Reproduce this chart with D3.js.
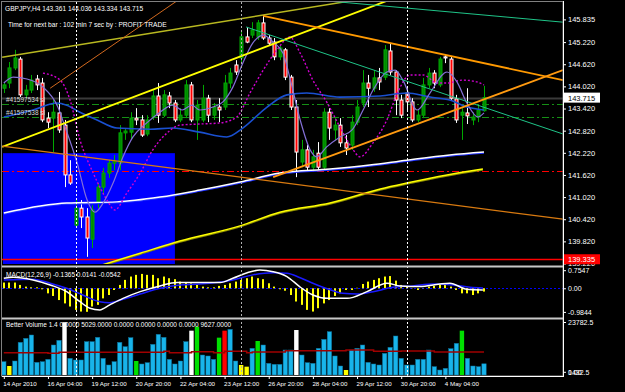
<!DOCTYPE html>
<html>
<head>
<meta charset="utf-8">
<script src="https://cdn.jsdelivr.net/npm/d3@7"></script>
<style>
  html, body { margin: 0; padding: 0; background: #000; }
  svg { display: block; }
  text { font-family: "Liberation Sans", Arial, sans-serif; font-size: 6.5px; fill: #fff; }
</style>
</head>
<body>
<svg id="chart" width="625" height="392"></svg>
<script>
"use strict";

// ---- data (bar index 0 = 14 Apr 2010 20:00, H4 bars) ----
const opens = [143.97,144.11,144.52,144.76,143.79,143.92,144.22,144.11,143.16,143.16,143.30,142.97,141.62,140.26,140.72,140.48,139.88,140.89,141.29,141.67,141.94,141.94,142.76,142.78,143.16,143.11,142.73,143.19,143.76,143.24,143.76,143.57,143.11,143.24,144.06,143.11,143.11,143.70,143.24,143.46,143.46,144.11,144.60,144.79,145.36,145.41,145.36,145.74,145.33,145.22,144.82,145.01,144.27,143.46,141.97,142.30,141.83,142.21,141.83,143.32,142.84,142.97,142.49,142.43,143.05,143.57,144.11,143.97,144.25,144.27,144.98,144.41,143.65,143.84,143.60,143.11,143.24,144.06,144.38,144.06,144.82,144.76,143.68,143.24,143.30,143.11,143.19,143.361];
const highs = [144.14,144.68,145.01,144.82,144.06,144.33,144.33,144.25,143.32,143.65,143.87,143.11,142.02,140.94,140.94,140.72,140.80,141.40,141.81,142.02,142.16,142.97,142.89,143.32,143.43,143.24,143.24,143.92,144.11,143.92,143.87,143.65,143.43,144.19,144.14,143.65,144.06,143.79,143.57,143.70,144.33,144.52,144.73,145.55,145.63,145.76,145.82,145.95,145.41,145.33,145.14,145.06,144.33,143.65,142.57,142.43,142.30,142.51,143.43,143.43,143.16,143.16,142.70,143.24,143.65,144.46,144.33,144.46,144.52,145.14,145.19,144.46,143.79,143.97,143.70,143.38,144.25,144.52,144.46,144.82,144.87,144.82,143.79,143.43,143.97,143.32,143.51,144.036];
const lows = [143.84,143.97,144.46,143.73,143.70,143.84,143.92,143.05,142.89,142.24,142.76,141.29,141.35,140.18,140.18,139.40,139.64,140.72,141.08,141.54,141.75,141.75,142.57,142.57,142.97,142.65,142.67,143.11,143.03,143.19,143.43,143.05,143.05,143.16,143.05,142.57,143.05,143.05,143.11,143.05,143.38,143.97,144.33,144.68,145.19,145.33,145.28,145.28,145.14,144.73,144.73,144.19,143.38,141.56,141.83,141.75,141.75,141.75,141.75,142.57,142.57,142.38,142.16,142.30,142.97,143.46,143.46,143.87,143.92,144.19,144.33,143.24,143.16,143.38,143.05,143.05,143.16,143.97,143.97,144.00,144.65,143.65,143.03,142.57,143.00,142.97,143.05,143.334];
const closes = [144.06,144.52,144.79,143.79,143.92,144.19,144.06,143.11,143.05,143.32,142.84,141.62,141.40,140.72,140.48,139.91,140.67,141.29,141.67,141.94,142.00,142.76,142.81,143.16,143.11,142.70,143.11,143.76,143.24,143.79,143.57,143.11,143.24,144.06,143.11,143.51,143.70,143.24,143.46,143.38,144.11,144.38,144.41,145.36,145.22,145.55,145.74,145.33,145.19,144.82,145.06,144.27,143.46,142.24,142.30,141.83,142.11,141.83,143.32,142.89,142.97,142.49,142.35,143.05,143.46,144.11,143.97,144.25,144.14,145.01,144.41,143.65,143.24,143.60,143.11,143.24,144.06,144.38,144.11,144.76,144.79,143.70,143.11,143.32,143.22,143.19,143.38,143.715];

// moving averages: [bar index, price]
const maFast = [[0,144.11],[1.7,144.27],[4.2,144.22],[7.1,144.00],[9.8,143.46],[11.1,142.92],[13.3,141.94],[15.1,140.94],[16.5,140.61],[18,140.86],[19.8,141.40],[21.6,142.11],[23.4,142.65],[25.9,143.03],[28.3,143.32],[30.6,143.51],[32.3,143.38],[34.1,143.51],[35.5,143.38],[37.9,143.46],[39.7,143.60],[41.5,144.00],[43.3,144.65],[45.1,145.19],[47,145.41],[48.8,145.22],[50.6,144.92],[51.8,144.27],[53.7,143.11],[55.5,142.30],[56.7,142.11],[58.5,142.38],[60.9,142.65],[63.1,142.84],[65.1,143.38],[66.9,143.92],[69.4,144.41],[70.9,144.46],[72.3,144.19],[74.9,143.38],[77.2,143.84],[80.3,144.41],[82.1,144.14],[83.9,143.57],[85.9,143.19],[87,143.30]];
const maMid = [[0,143.19],[5.3,143.38],[9.6,143.57],[11.4,143.51],[13.8,143.32],[16.9,143.11],[20.5,142.89],[26.5,142.86],[30.6,142.89],[35.5,142.78],[40.4,142.65],[43.3,142.89],[47.7,143.46],[51.3,143.79],[54.9,143.84],[60.9,143.73],[68.2,143.76],[73,143.84],[77.2,143.73],[80.8,143.65],[83.9,143.46],[87,143.38]];
const maDotted = [[7.1,144.38],[10.2,144.19],[12,143.65],[13.8,142.57],[16.2,141.67],[18.7,140.94],[20.1,140.67],[22.3,141.13],[24.7,141.67],[27,142.30],[29.6,142.76],[31.9,142.97],[35.5,143.00],[39.2,143.03],[42.2,143.19],[44.6,143.84],[47,144.46],[49.5,145.01],[51.8,145.36],[53.7,144.92],[56,144.19],[58.6,143.57],[60.9,142.92],[63.3,142.30],[64.5,142.11],[66.9,142.49],[69.4,143.11],[71.4,143.87],[73.6,144.33],[76,144.33],[78.5,144.11],[80.3,144.11],[83.2,144.19],[85.7,144.14],[87,144.06]];
const maSlowWhite = [[0,140.59],[6.6,140.78],[11.4,140.86],[20.5,140.89],[28.3,141.02],[35.5,141.21],[42.8,141.43],[50,141.67],[59.1,141.78],[66.3,141.89],[73,142.02],[80.8,142.16],[87,142.24]];
const maSlowYellow = [[16.5,139.12],[24.7,139.50],[31.9,139.83],[42.8,140.24],[50,140.61],[59.1,140.86],[68.2,141.24],[73,141.40],[80.3,141.62],[86.8,141.78]];

// trend lines: anchor points [bar index, price]
const trendNames = ["upperYellow", "lowerYellow", "chocolate", "orangeDown", "tealDown", "tealTop", "orangeUp", "orangeLow"];
const trendFrom = [[-0.3,144.81],[-0.3,142.38],[8.4,143.97],[47,145.93],[43.9,145.63],[59.1,146.33],[48.8,141.56],[-0.3,142.40]];
const trendTo = [[63.8,146.36],[69.8,146.36],[31.6,146.36],[101.3,144.19],[101.3,142.73],[101.3,145.76],[101.3,144.46],[101.3,140.42]];

const boxFrom = [-0.15, 142.21];
const boxTo = [31, 138.9];

const bidPrice = 143.715;
const lowLevel = 139.335;
const redDashLevel = 141.73;
const orderLevels = [143.54, 143.19];
const orderLabels = ["#41597534 sl", "#41597538 sl"];
const separatorBars = [13, 43, 73];

const priceTicks = [145.835, 145.220, 144.620, 144.020, 143.420, 142.820, 142.220, 141.620, 141.020, 140.420, 139.820, 139.220];

// MACD (12,26,9)
const macdHist = [0.24,0.24,0.24,0.14,0.07,0.04,0.04,-0.04,-0.21,-0.32,-0.49,-0.63,-0.76,-0.90,-0.97,-0.98,-0.76,-0.69,-0.42,-0.28,-0.07,0.14,0.35,0.49,0.56,0.60,0.56,0.56,0.42,0.49,0.42,0.38,0.28,0.24,0.21,0.14,0.07,0.04,0.04,0.10,0.14,0.21,0.28,0.35,0.42,0.49,0.42,0.38,0.21,0.07,-0.04,-0.10,-0.28,-0.55,-0.69,-0.90,-0.97,-0.83,-0.63,-0.49,-0.32,-0.21,-0.07,-0.07,0.02,0.18,0.28,0.35,0.42,0.49,0.51,0.32,0.14,0.07,-0.01,-0.07,0.01,0.07,0.10,0.18,0.21,0.07,-0.07,-0.21,-0.21,-0.28,-0.21,-0.1365];
const macdMain = [[0,0.42],[1.7,0.46],[5.3,0.35],[8.4,0.14],[11.4,-0.14],[13.8,-0.56],[15.6,-0.83],[17.4,-0.90],[19.2,-0.69],[21.6,-0.42],[24.7,-0.14],[28.3,0.10],[31.4,0.24],[35.5,0.24],[39.2,0.24],[41.5,0.42],[44.1,0.65],[46.4,0.76],[48.8,0.69],[51.3,0.49],[53.7,0.05],[56,-0.28],[58.6,-0.42],[62.2,-0.42],[65.8,-0.14],[69.4,0.21],[71.8,0.10],[75.4,0.07],[79,0.18],[80.8,0.21],[83.9,-0.04],[86.8,-0.07]];
const macdSignal = [[0,0.35],[5.3,0.38],[8.4,0.21],[11.4,0.0],[14.3,-0.28],[17.4,-0.56],[19.2,-0.60],[21.6,-0.46],[24.7,-0.24],[28.3,0.0],[31.9,0.14],[35.5,0.18],[41.5,0.35],[45.1,0.56],[48.8,0.65],[51.3,0.63],[53.7,0.44],[56,0.21],[58.6,-0.02],[61.4,-0.21],[64,-0.24],[66.9,-0.14],[70.5,0.04],[74.1,0.10],[77.8,0.18],[81.4,0.14],[84.5,0.04],[86.8,0.0141]];
const macdTicks = [0.7547, 0, -0.9844];
const macdTickText = ["0.7547", "0.00", "-0.9844"];

// Better Volume 1.4
const volume = [5980,4040,6280,14660,16450,17950,5680,5980,7030,13460,15560,23700,7480,6730,6730,14960,14960,16900,7480,4490,5980,14660,12710,16750,6280,4940,5530,13760,18250,16900,7030,4940,6280,14960,19890,21690,8970,8530,7030,16750,19890,20490,6280,4490,3740,11970,15260,13460,5240,4790,4790,11220,11220,20190,8970,5530,5240,11970,16000,19440,8530,4040,2240,11220,11970,13460,5680,4940,4490,9720,12410,17500,7480,4490,4490,7030,7030,11220,3740,2240,2990,11810,14210,19890,7480,4040,3740,5029];
const volKind = volume.map(() => "normal");
[1, 43, 44, 62].forEach((i) => (volKind[i] = "low"));
[11, 34, 53].forEach((i) => (volKind[i] = "climax"));
[24, 35, 39, 46, 83].forEach((i) => (volKind[i] = "churn"));
[40].forEach((i) => (volKind[i] = "climaxChurn"));
const volAvg = [[0,10020],[8,9720],[10,10170],[29,10620],[30,10020],[34,10470],[38,10020],[40,10620],[44,10020],[45,10320],[51,10920],[62,11220],[67,10620],[72,10770],[78,10320],[87,10320]];
const volTicks = [23782.5, 1432.5];

const timeTickBars = [0, 8, 16, 24, 32, 40, 48, 56, 64, 72, 80];
const timeLabels = ["14 Apr 2010", "16 Apr 04:00", "19 Apr 12:00", "20 Apr 20:00", "22 Apr 04:00", "23 Apr 12:00", "26 Apr 20:00", "28 Apr 04:00", "29 Apr 12:00", "30 Apr 20:00", "4 May 04:00"];

// ---- layout ----
const width = 625;
const height = 392;
const plotL = 2, plotR = 563;
const main = { top: 2, bottom: 264 };
const macdP = { top: 267, bottom: 316 };
const volP = { top: 319, bottom: 376 };

const colors = {
  bull: "#008a00", bullEdge: "#00a800", bear: "#ff0000", bearEdge: "#ffffff",
  volume: { normal: "#18b4ea", low: "#ffff00", climax: "#ffffff", churn: "#00e000", climaxChurn: "#ff0000" }
};

const x = d3.scaleLinear().domain([0, 87]).range([3.8, 484]);
const y = d3.scaleLinear().domain([139.22, 145.835]).range([263.5, 19.4]);
const yMacd = d3.scaleLinear().domain([-0.9844, 0.7547]).range([311.9, 270.2]);
const yVol = d3.scaleLinear().domain([0, 23782.5]).range([375, 322]);

const svg = d3.select("#chart");
svg.append("rect").attr("width", width).attr("height", height).attr("fill", "#000");

const defs = svg.append("defs");
const addClip = (id, p) =>
  defs.append("clipPath").attr("id", id).append("rect")
    .attr("x", plotL).attr("y", p.top).attr("width", plotR - plotL).attr("height", p.bottom - p.top);
addClip("clip-main", main);
addClip("clip-macd", macdP);
addClip("clip-vol", volP);

const gMain = svg.append("g").attr("clip-path", "url(#clip-main)");

// background box
gMain.append("rect")
  .attr("x", x(boxFrom[0])).attr("y", y(boxFrom[1]))
  .attr("width", x(boxTo[0]) - x(boxFrom[0])).attr("height", y(boxTo[1]) - y(boxFrom[1]))
  .attr("fill", "#0000ff");

// horizontal levels
const hline = (p, color, w, dash) =>
  gMain.append("line")
    .attr("x1", plotL).attr("x2", plotR)
    .attr("y1", Math.round(y(p)) + 0.5).attr("y2", Math.round(y(p)) + 0.5)
    .attr("stroke", color).attr("stroke-width", w)
    .attr("stroke-dasharray", dash);

hline(bidPrice, "#3a3a3a", 2, null);
orderLevels.forEach((p) => hline(p, "#159015", 1.2, "7,3,2,3"));
hline(redDashLevel, "#ff0000", 1, "7,3,2,3");
hline(lowLevel, "#ff0000", 1.5, null);

// candles
const bars = d3.range(opens.length);
const cg = gMain.append("g");
cg.selectAll("line")
  .data(bars)
  .join("line")
  .attr("x1", (i) => Math.round(x(i)) + 0.5).attr("x2", (i) => Math.round(x(i)) + 0.5)
  .attr("y1", (i) => y(highs[i])).attr("y2", (i) => y(lows[i]))
  .attr("stroke", (i) => (closes[i] >= opens[i] ? colors.bullEdge : colors.bearEdge))
  .attr("stroke-width", 1);
cg.selectAll("rect")
  .data(bars)
  .join("rect")
  .attr("x", (i) => Math.round(x(i)) - 1)
  .attr("width", 3)
  .attr("y", (i) => y(Math.max(opens[i], closes[i])))
  .attr("height", (i) => Math.max(1, Math.abs(y(opens[i]) - y(closes[i]))))
  .attr("fill", (i) => (closes[i] >= opens[i] ? colors.bull : colors.bear))
  .attr("stroke", (i) => (closes[i] >= opens[i] ? colors.bullEdge : colors.bearEdge))
  .attr("stroke-width", 1);

// moving averages
const maLine = d3.line().x((d) => x(d[0])).y((d) => y(d[1])).curve(d3.curveMonotoneX);
const drawPath = (g, data, gen, color, w, dash, dy) =>
  g.append("path")
    .datum(data)
    .attr("d", gen)
    .attr("fill", "none")
    .attr("stroke", color)
    .attr("stroke-width", w)
    .attr("stroke-dasharray", dash)
    .attr("transform", dy ? `translate(0,${dy})` : null);

drawPath(gMain, maSlowYellow, maLine, "#8a8a00", 1.5, null, 1);
drawPath(gMain, maSlowYellow, maLine, "#ffff00", 1.5, null, 0);
drawPath(gMain, maSlowWhite, maLine, "#2030ff", 1.5, null, 1);
drawPath(gMain, maSlowWhite, maLine, "#ffffff", 1.5, null, 0);
drawPath(gMain, maMid, maLine, "#1a50d0", 1.6, null, 0);
drawPath(gMain, maDotted, maLine, "#d000d0", 1.4, "2,2", 0);
drawPath(gMain, maFast, maLine, "#8470d8", 1.2, null, 0);

// trend lines
const trendStyle = {
  upperYellow: { color: "#b8b820", w: 1.5 },
  lowerYellow: { color: "#ffff00", w: 1.8 },
  chocolate: { color: "#d2691e", w: 1 },
  orangeDown: { color: "#ff9900", w: 1.8 },
  tealDown: { color: "#1fc488", w: 1 },
  tealTop: { color: "#1fc488", w: 1 },
  orangeUp: { color: "#ff9a10", w: 1.8 },
  orangeLow: { color: "#d97a10", w: 1.2 }
};
gMain.append("g").selectAll("line")
  .data(trendNames)
  .join("line")
  .attr("x1", (d, k) => x(trendFrom[k][0])).attr("y1", (d, k) => y(trendFrom[k][1]))
  .attr("x2", (d, k) => x(trendTo[k][0])).attr("y2", (d, k) => y(trendTo[k][1]))
  .attr("stroke", (d) => trendStyle[d].color)
  .attr("stroke-width", (d) => trendStyle[d].w);

// order labels on top
gMain.append("g").selectAll("text")
  .data(orderLabels)
  .join("text")
  .attr("x", 6)
  .attr("y", (d, k) => y(orderLevels[k]) - 2)
  .style("fill", "#d8d8d8")
  .text((d) => d);

// ---- MACD panel ----
const gMacd = svg.append("g").attr("clip-path", "url(#clip-macd)");
gMacd.append("line")
  .attr("x1", plotL).attr("x2", plotR)
  .attr("y1", Math.round(yMacd(0)) + 0.5).attr("y2", Math.round(yMacd(0)) + 0.5)
  .attr("stroke", "#0000ff").attr("stroke-dasharray", "2,2");
gMacd.append("g").selectAll("rect")
  .data(bars)
  .join("rect")
  .attr("x", (i) => Math.round(x(i)) - 1)
  .attr("width", 2)
  .attr("y", (i) => Math.min(yMacd(0), yMacd(macdHist[i])))
  .attr("height", (i) => Math.abs(yMacd(macdHist[i]) - yMacd(0)))
  .attr("fill", "#ffff00");
const macdLine = d3.line().x((d) => x(d[0])).y((d) => yMacd(d[1])).curve(d3.curveMonotoneX);
drawPath(gMacd, macdSignal, macdLine, "#1a1aff", 1.5, null, 0);
drawPath(gMacd, macdMain, macdLine, "#ffffff", 1.5, null, 0);

// ---- volume panel ----
const gVol = svg.append("g").attr("clip-path", "url(#clip-vol)");
gVol.append("g").selectAll("rect")
  .data(bars)
  .join("rect")
  .attr("x", (i) => x(i) - 2.2)
  .attr("width", 4.4)
  .attr("y", (i) => yVol(volume[i]))
  .attr("height", (i) => yVol(0) - yVol(volume[i]))
  .attr("fill", (i) => colors.volume[volKind[i]])
  .attr("stroke", (i) => (volKind[i] === "normal" ? "#0b6f98" : null))
  .attr("stroke-width", 0.5);
const volLine = d3.line().x((d) => x(d[0])).y((d) => yVol(d[1])).curve(d3.curveStepAfter);
drawPath(gVol, volAvg, volLine, "#a00000", 1.5, null, 0);

// ---- period separators ----
svg.append("g").selectAll("line")
  .data(separatorBars)
  .join("line")
  .attr("x1", (i) => Math.round(x(i)) + 0.5).attr("x2", (i) => Math.round(x(i)) + 0.5)
  .attr("y1", 2).attr("y2", volP.bottom)
  .attr("stroke", (d, k) => (k === 1 ? "#b0b0b0" : "#ffffff"))
  .attr("stroke-dasharray", "2,2");

// ---- frame ----
svg.append("rect").attr("x", 1.5).attr("y", 1.5).attr("width", plotR - 1.5).attr("height", volP.bottom - 1.5)
  .attr("fill", "none").attr("stroke", "#808080");
[main.bottom + 1.5, macdP.bottom + 1.5].forEach((yy) =>
  svg.append("rect").attr("x", plotL).attr("y", yy).attr("width", plotR - plotL).attr("height", 2).attr("fill", "#c8c8c8"));
svg.append("line").attr("x1", plotR + 0.5).attr("x2", plotR + 0.5).attr("y1", 1).attr("y2", volP.bottom + 1)
  .attr("stroke", "#ffffff");
svg.append("line").attr("x1", plotL).attr("x2", plotR + 1).attr("y1", volP.bottom + 0.5).attr("y2", volP.bottom + 0.5)
  .attr("stroke", "#ffffff");

// ---- axes ----
const styleAxis = (size) => (g) => {
  g.select(".domain").remove();
  g.selectAll("line").attr("stroke", "#ffffff");
  g.selectAll("text").style("fill", "#ffffff").style("font-size", size);
};

svg.append("g")
  .attr("transform", `translate(${plotR},0)`)
  .call(d3.axisRight(y).tickValues(priceTicks).tickFormat(d3.format(".3f")).tickSize(3).tickPadding(2))
  .call(styleAxis("7.5px"));

svg.append("g")
  .attr("transform", `translate(${plotR},0)`)
  .call(d3.axisRight(yMacd).tickValues(macdTicks).tickFormat((d, k) => macdTickText[k]).tickSize(3).tickPadding(2))
  .call(styleAxis("7px"));

svg.append("g")
  .attr("transform", `translate(${plotR},0)`)
  .call(d3.axisRight(yVol).tickValues(volTicks).tickFormat(d3.format(".1f")).tickSize(3).tickPadding(2))
  .call(styleAxis("7px"));
svg.append("text").attr("x", plotR + 5).attr("y", yVol(1432.5) + 3).style("font-size", "7px").text("0.00");

svg.append("g")
  .attr("transform", `translate(0,${volP.bottom})`)
  .call(d3.axisBottom(x).tickValues(timeTickBars).tickFormat((d, k) => timeLabels[k]).tickSize(3).tickPadding(3))
  .call(styleAxis("6.2px"))
  .call((g) => g.selectAll("text").attr("text-anchor", "start").attr("x", -1));

// price markers
const marker = (p, bg, fg) => {
  const g = svg.append("g").attr("transform", `translate(${plotR + 1},${y(p)})`);
  g.append("rect").attr("x", 0).attr("y", -5).attr("width", 36).attr("height", 10).attr("fill", bg);
  g.append("text").attr("x", 4).attr("y", 3).style("fill", fg).style("font-size", "7.5px").text(d3.format(".3f")(p));
};
marker(bidPrice, "#ffffff", "#000000");
marker(lowLevel, "#ff0000", "#ffffff");

// ---- labels ----
svg.append("text").attr("x", 5).attr("y", 11).style("font-size", "6.6px").text("GBPJPY,H4  143.361 144.036 143.334 143.715");
svg.append("text").attr("x", 8).attr("y", 27).style("font-size", "6.6px").text("Time for next bar : 102 min 7 sec by : PROFIT TRADE");
svg.append("text").attr("x", 6).attr("y", 277).text("MACD(12,26,9) -0.1365 0.0141 -0.0542");
svg.append("text").attr("x", 6).attr("y", 327).text("Better Volume 1.4 0.0000 5029.0000 0.0000 0.0000 0.0000 0.0000 9627.0000");
</script>
</body>
</html>
